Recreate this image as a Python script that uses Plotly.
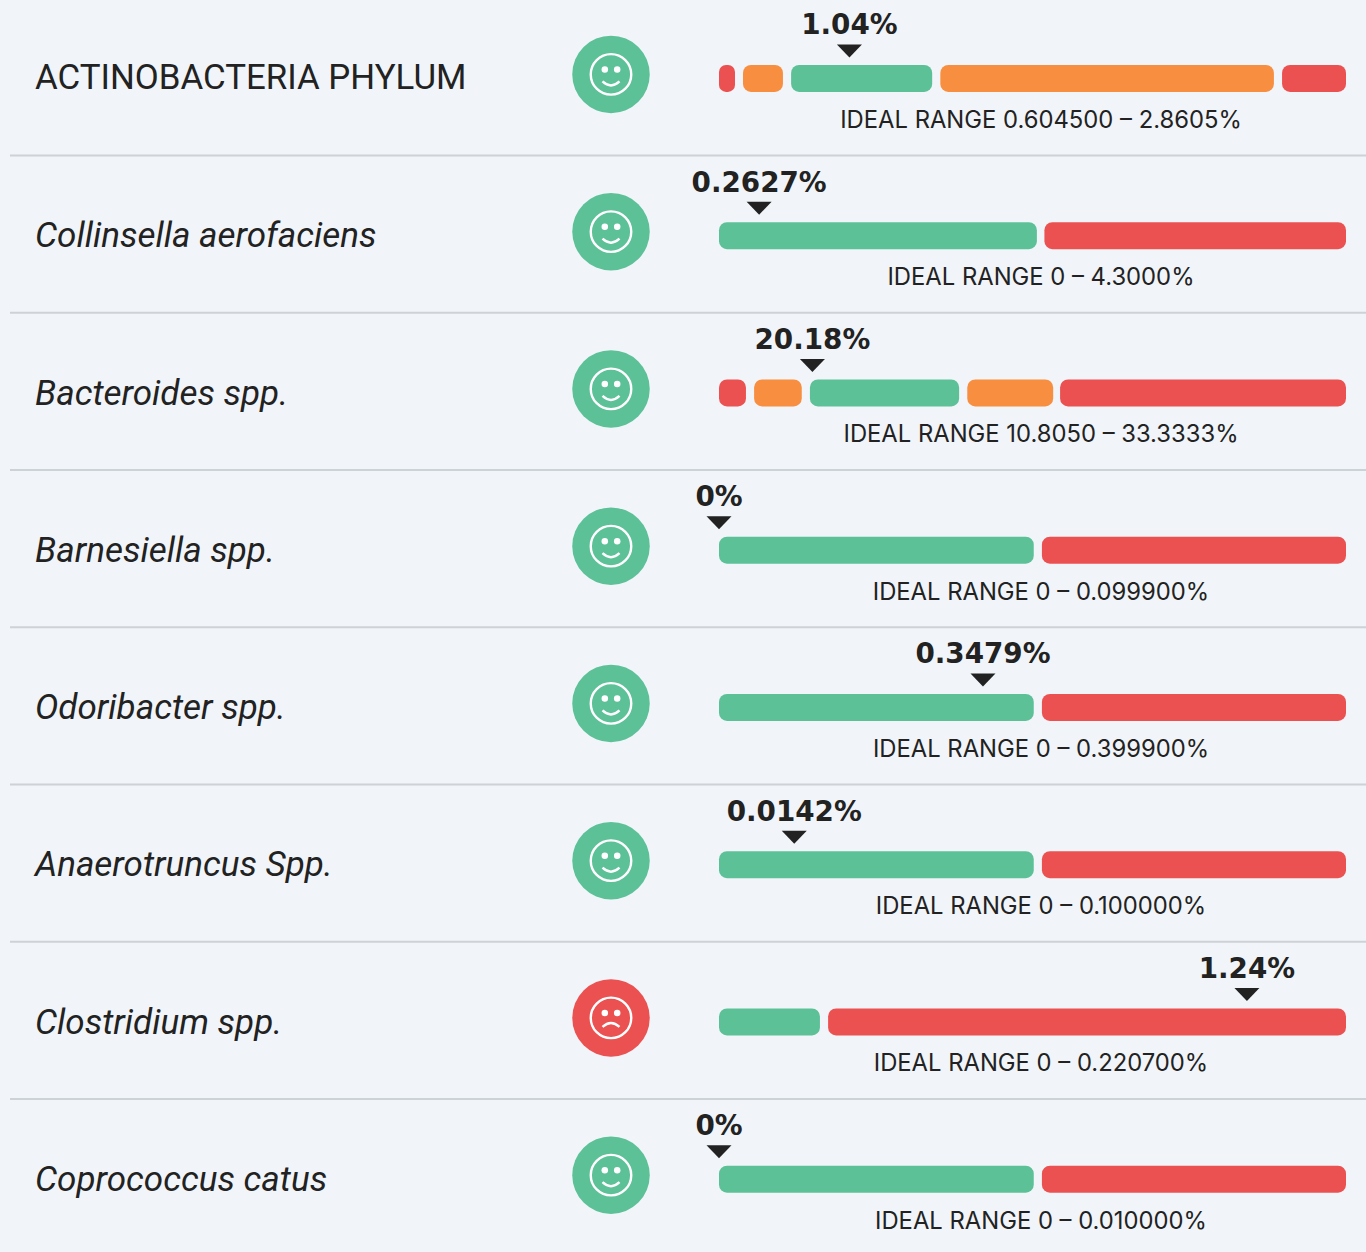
import plotly.graph_objects as go

# ---- data -------------------------------------------------------------
names = ["ACTINOBACTERIA PHYLUM", "Collinsella aerofaciens", "Bacteroides spp.",
         "Barnesiella spp.", "Odoribacter spp.", "Anaerotruncus Spp.",
         "Clostridium spp.", "Coprococcus catus"]
italic_names = [False, True, True, True, True, True, True, True]
value_labels = ["1.04%", "0.2627%", "20.18%", "0%", "0.3479%", "0.0142%", "1.24%", "0%"]
# pointer position on the gauge, 0-100
pointer_pos = [20.8, 6.4, 14.9, 0.0, 42.1, 12.0, 84.2, 0.0]
range_labels = ["IDEAL RANGE 0.604500 – 2.8605%", "IDEAL RANGE 0 – 4.3000%",
                "IDEAL RANGE 10.8050 – 33.3333%", "IDEAL RANGE 0 – 0.099900%",
                "IDEAL RANGE 0 – 0.399900%", "IDEAL RANGE 0 – 0.100000%",
                "IDEAL RANGE 0 – 0.220700%", "IDEAL RANGE 0 – 0.010000%"]
moods = ["happy", "happy", "happy", "happy", "happy", "happy", "sad", "happy"]
# gauge segments per row: (start, end, zone)
segments = [
    [(0, 2.55, "bad"), (3.83, 10.2, "warn"), (11.5, 34.0, "good"), (35.3, 88.5, "warn"), (89.8, 100, "bad")],
    [(0, 50.7, "good"), (51.9, 100, "bad")],
    [(0, 4.3, "bad"), (5.6, 13.2, "warn"), (14.5, 38.3, "good"), (39.6, 53.3, "warn"), (54.4, 100, "bad")],
    [(0, 50.2, "good"), (51.5, 100, "bad")],
    [(0, 50.2, "good"), (51.5, 100, "bad")],
    [(0, 50.2, "good"), (51.5, 100, "bad")],
    [(0, 16.1, "good"), (17.4, 100, "bad")],
    [(0, 50.2, "good"), (51.5, 100, "bad")],
]

# ---- style ------------------------------------------------------------
COL = {"good": "#5DC198", "warn": "#F88E3F", "bad": "#EC5151"}
BG = "#F1F5F9"
INK = "#222222"
W, H = 1366, 1252
PITCH = 157.25
FIRST = 78.4
GAUGE_L, GAUGE_R = 719, 1346
UNIT = (GAUGE_R - GAUGE_L) / 100
FACE_X, LABEL_X, RANGE_X = 611, 35, 1041


def dy(px):
    return px / PITCH


rows = list(range(len(names)))
fig = go.Figure()

for zone, colour in COL.items():
    ys, bases, xs = [], [], []
    for r in rows:
        for s, e, z in segments[r]:
            if z == zone:
                ys.append(r)
                bases.append(s)
                xs.append(e - s)
    fig.add_bar(x=xs, y=ys, base=bases, orientation="h", width=dy(27), xaxis="x2", yaxis="y",
                marker=dict(color=colour, line_width=0, cornerradius=8), hoverinfo="skip", showlegend=False)

# row names
for r in rows:
    fig.add_scatter(x=[LABEL_X], y=[r + dy(3 if italic_names[r] else 1.5)], mode="text", text=[names[r]],
                    textposition="middle right",
                    textfont=dict(family="Roboto", size=35 if italic_names[r] else 34.85, color=INK,
                                  style="italic" if italic_names[r] else "normal"),
                    hoverinfo="skip", showlegend=False)

# face discs, rings, eyes
face_y = [r + dy(-4) for r in rows]
fig.add_scatter(x=[FACE_X] * 8, y=face_y, mode="markers", hoverinfo="skip", showlegend=False,
                marker=dict(size=77.5, color=[COL["good"] if m == "happy" else COL["bad"] for m in moods], line_width=0))
fig.add_scatter(x=[FACE_X] * 8, y=face_y, mode="markers", hoverinfo="skip", showlegend=False,
                marker=dict(size=40.5, color="rgba(0,0,0,0)", line=dict(color="white", width=2.4)))
eye_x, eye_y = [], []
for r in rows:
    for off in (-6.2, 6.2):
        eye_x.append(FACE_X + off)
        eye_y.append(face_y[r] + dy(-5))
fig.add_scatter(x=eye_x, y=eye_y, mode="markers", hoverinfo="skip", showlegend=False,
                marker=dict(size=6.5, color="white", line_width=0))

# value labels and range labels
fig.add_scatter(x=pointer_pos, y=[r + dy(-51) for r in rows], xaxis="x2", mode="text", text=value_labels,
                textposition="middle center", hoverinfo="skip", showlegend=False,
                textfont=dict(family="DejaVu Sans", size=27.8, color=INK, weight="bold"))
fig.add_scatter(x=[RANGE_X] * 8, y=[r + dy(43.5) for r in rows], mode="text", text=range_labels,
                textposition="middle center", hoverinfo="skip", showlegend=False,
                textfont=dict(family="Inter", size=23.8, color=INK))

shapes = []
# separators
for r in rows[:-1]:
    sep_y = r + dy(77.2)
    shapes.append(dict(type="line", xref="x", yref="y", x0=10, x1=W, y0=sep_y, y1=sep_y,
                       line=dict(color="#CDD2D6", width=2), layer="below"))
# pointer triangles (pixel-sized, anchored on the gauge value)
for r in rows:
    shapes.append(dict(type="path", xref="x2", yref="y", xsizemode="pixel", ysizemode="pixel",
                       xanchor=pointer_pos[r], yanchor=r,
                       path="M -12.5 34 L 12.5 34 L 0 21 Z", fillcolor=INK, line_width=0))
# mouths
for r in rows:
    p = "M -8.5 -7 Q 0 -15 8.5 -7" if moods[r] == "happy" else "M -8.5 -9 Q 0 -1 8.5 -9"
    shapes.append(dict(type="path", xref="x", yref="y", xsizemode="pixel", ysizemode="pixel",
                       xanchor=FACE_X, yanchor=face_y[r], path=p,
                       line=dict(color="white", width=2.4), fillcolor="rgba(0,0,0,0)"))

hidden = dict(visible=False, showgrid=False, zeroline=False, fixedrange=True)
fig.update_layout(
    width=W, height=H, margin=dict(l=0, r=0, t=0, b=0, pad=0),
    paper_bgcolor=BG, plot_bgcolor="rgba(0,0,0,0)", barmode="overlay", shapes=shapes, showlegend=False,
    xaxis=dict(range=[0, W], domain=[0, 1], **hidden),
    xaxis2=dict(range=[-GAUGE_L / UNIT, (W - GAUGE_L) / UNIT], domain=[0, 1], anchor="y", overlaying="x", **hidden),
    yaxis=dict(range=[(H - FIRST) / PITCH, -FIRST / PITCH], domain=[0, 1], **hidden),
)
fig.write_html("out.html", config={"displayModeBar": False},
               post_script="document.body.style.margin='0';")
